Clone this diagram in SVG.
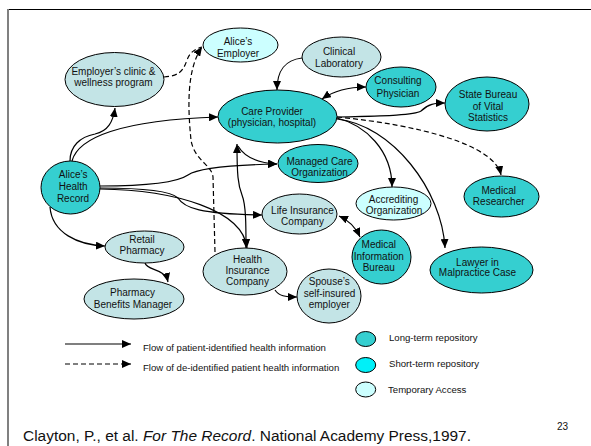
<svg xmlns="http://www.w3.org/2000/svg" width="591" height="446" viewBox="0 0 591 446">
  <style>
    .lt { fill: #35cfd0; stroke: #000; stroke-width: 1; }
    .st { fill: #00f0f8; stroke: #000; stroke-width: 1; }
    .ta { fill: #ccffff; stroke: #000; stroke-width: 1; }
    .ot { fill: #c3e4e6; stroke: #000; stroke-width: 1; }
    .lbl { font-family: "Liberation Sans", Arial, sans-serif; font-size: 10px; fill: #111; text-anchor: middle; }
    .leg { font-family: "Liberation Sans", Arial, sans-serif; font-size: 9.6px; fill: #111; }
    .ref { font-family: "Liberation Sans", Arial, sans-serif; font-size: 14px; fill: #111; }
    .c { fill: none; stroke: #000; stroke-width: 1.2; }
    .d { stroke-dasharray: 5 3; }
  </style>
  <defs>
    <marker id="ah" viewBox="0 0 9 8" refX="9" refY="4" markerWidth="9" markerHeight="8" markerUnits="userSpaceOnUse" orient="auto-start-reverse">
      <path d="M0,0 L9,4 L0,8 z" fill="#000"/>
    </marker>
  </defs>

  <rect width="591" height="446" fill="#fff"/>
  <!-- slide frame -->
  <line x1="8" y1="9.5" x2="591" y2="9.5" stroke="#000" stroke-width="1"/>
  <line x1="8" y1="9" x2="8" y2="446" stroke="#808080" stroke-width="2"/>

  <!-- connectors -->
  <g id="connectors">
    <path class="c" d="M70,161 C70,146 80,137 95,134 C108,131 113,122 115,108" marker-end="url(#ah)"/>
    <path class="c" d="M72,161 C78,138 120,120 218,117" marker-end="url(#ah)"/>
    <path class="c" d="M100,186 C140,186 175,184 188,175 C198,168 230,165 277,164" marker-end="url(#ah)"/>
    <path class="c" d="M100,188 C135,188 170,190 178,198 C184,208 200,214 262,215" marker-end="url(#ah)"/>
    <path class="c" d="M100,189 C175,190 243,210 247,248" marker-end="url(#ah)"/>
    <path class="c" d="M50,207 C52,233 78,245 105,246" marker-end="url(#ah)"/>
    <path class="c" d="M145,263 C147,271 165,268 168,282" marker-end="url(#ah)"/>
    <path class="c" d="M237,144 C237,175 238,185 242,195 C246,205 246,225 246,248" marker-start="url(#ah)" marker-end="url(#ah)"/>
    <path class="c" d="M238,146 C245,158 258,163 277,164" marker-end="url(#ah)"/>
    <path class="c d" d="M215,252 L213,177 C212,165 194,160 191,140 C188,110 186,70 202,47" marker-end="url(#ah)"/>
    <path class="c d" d="M164,77 C178,76 183,72 187,60 C190,52 195,49 202,47"/>
    <path class="c" d="M302,58 C285,60 277,70 277,90" marker-end="url(#ah)"/>
    <path class="c" d="M322,99 C335,90 350,87 366,87" marker-start="url(#ah)" marker-end="url(#ah)"/>
    <path class="c" d="M337,117 C370,116 413,116 421,111 C428,104 435,103 445,103" marker-end="url(#ah)"/>
    <path class="c d" d="M337,117 C420,125 495,145 501,175" marker-end="url(#ah)"/>
    <path class="c" d="M337,118 C365,125 392,150 392,187" marker-end="url(#ah)"/>
    <path class="c" d="M337,119 C392,125 442,190 445,248" marker-end="url(#ah)"/>
    <path class="c" d="M339,216 C348,220 356,228 360,237" marker-start="url(#ah)" marker-end="url(#ah)"/>
    <path class="c" d="M275,290 C279,296 285,297 297,297" marker-end="url(#ah)"/>
  </g>

  <!-- nodes -->
  <g id="alices-employer">
    <ellipse class="ta" cx="240.5" cy="45" rx="37.5" ry="17"/>
    <text class="lbl" x="238" y="45">Alice’s</text>
    <text class="lbl" x="238" y="57">Employer</text>
  </g>
  <g id="employers-clinic">
    <ellipse class="ot" cx="114.5" cy="79.5" rx="49.5" ry="27"/>
    <text class="lbl" x="113.5" y="75">Employer’s clinic &amp;</text>
    <text class="lbl" x="113.5" y="86">wellness program</text>
  </g>
  <g id="clinical-laboratory">
    <ellipse class="ot" cx="341.5" cy="57" rx="39.5" ry="20"/>
    <text class="lbl" x="339" y="55">Clinical</text>
    <text class="lbl" x="339" y="67">Laboratory</text>
  </g>
  <g id="consulting-physician">
    <ellipse class="lt" cx="401" cy="87" rx="35" ry="20"/>
    <text class="lbl" x="398" y="84">Consulting</text>
    <text class="lbl" x="398" y="97">Physician</text>
  </g>
  <g id="state-bureau">
    <ellipse class="lt" cx="487" cy="104" rx="42" ry="27"/>
    <text class="lbl" x="488" y="97.5">State Bureau</text>
    <text class="lbl" x="488" y="109.5">of Vital</text>
    <text class="lbl" x="488" y="121">Statistics</text>
  </g>
  <g id="care-provider">
    <ellipse class="lt" cx="277.5" cy="116.5" rx="59.5" ry="26.5"/>
    <text class="lbl" x="272" y="114.5">Care Provider</text>
    <text class="lbl" x="272" y="126">(physician, hospital)</text>
  </g>
  <g id="managed-care">
    <ellipse class="lt" cx="318" cy="163.5" rx="40" ry="19"/>
    <text class="lbl" x="319.5" y="164.5">Managed Care</text>
    <text class="lbl" x="319.5" y="175.5">Organization</text>
  </g>
  <g id="accrediting-organization">
    <ellipse class="ta" cx="393.5" cy="203.5" rx="37.5" ry="16.5"/>
    <text class="lbl" x="393.5" y="202.5">Accrediting</text>
    <text class="lbl" x="394" y="214">Organization</text>
  </g>
  <g id="medical-researcher">
    <ellipse class="lt" cx="501.5" cy="196.5" rx="37.5" ry="20.5"/>
    <text class="lbl" x="498.7" y="193.5">Medical</text>
    <text class="lbl" x="498.7" y="205">Researcher</text>
  </g>
  <g id="life-insurance">
    <ellipse class="ot" cx="299.5" cy="214" rx="37.5" ry="20"/>
    <text class="lbl" x="302.5" y="213.5">Life Insurance</text>
    <text class="lbl" x="302.5" y="225">Company</text>
  </g>
  <g id="medical-information-bureau">
    <ellipse class="lt" cx="381.5" cy="257" rx="29.5" ry="27"/>
    <text class="lbl" x="378.8" y="247.5">Medical</text>
    <text class="lbl" x="378.8" y="259.5">Information</text>
    <text class="lbl" x="378.8" y="271">Bureau</text>
  </g>
  <g id="lawyer">
    <ellipse class="lt" cx="481.5" cy="270" rx="51.5" ry="23"/>
    <text class="lbl" x="477.5" y="265.5">Lawyer in</text>
    <text class="lbl" x="477.5" y="276">Malpractice Case</text>
  </g>
  <g id="spouses-employer">
    <ellipse class="ot" cx="329" cy="296" rx="32" ry="27"/>
    <text class="lbl" x="329.3" y="285">Spouse’s</text>
    <text class="lbl" x="329.5" y="296.5">self-insured</text>
    <text class="lbl" x="329.3" y="307.5">employer</text>
  </g>
  <g id="health-insurance">
    <ellipse class="ot" cx="245" cy="271.5" rx="42" ry="23.5"/>
    <text class="lbl" x="247.5" y="262.5">Health</text>
    <text class="lbl" x="247.5" y="274">Insurance</text>
    <text class="lbl" x="247.5" y="285">Company</text>
  </g>
  <g id="alices-health-record">
    <ellipse class="lt" cx="70.5" cy="187.5" rx="29.5" ry="26.5"/>
    <text class="lbl" x="73.2" y="177.8">Alice’s</text>
    <text class="lbl" x="73.2" y="190">Health</text>
    <text class="lbl" x="73" y="202">Record</text>
  </g>
  <g id="retail-pharmacy">
    <ellipse class="ot" cx="144.5" cy="247" rx="39.5" ry="16"/>
    <text class="lbl" x="142" y="242.5">Retail</text>
    <text class="lbl" x="142" y="254">Pharmacy</text>
  </g>
  <g id="pharmacy-benefits-manager">
    <ellipse class="ot" cx="134" cy="299" rx="50" ry="20"/>
    <text class="lbl" x="132.5" y="296">Pharmacy</text>
    <text class="lbl" x="133" y="307.5">Benefits Manager</text>
  </g>

  <!-- legend -->
  <g id="legend">
    <line class="c" x1="65" y1="344" x2="131" y2="344" marker-end="url(#ah)"/>
    <text class="leg" x="143" y="351">Flow of patient-identified health information</text>
    <line class="c d" x1="65" y1="364" x2="131" y2="364" marker-end="url(#ah)"/>
    <text class="leg" x="143" y="371">Flow of de-identified patient health information</text>
    <ellipse class="lt" cx="365.7" cy="339" rx="10" ry="7.5"/>
    <text class="leg" x="389" y="340.5">Long-term repository</text>
    <ellipse class="st" cx="365.7" cy="365" rx="10" ry="7.5"/>
    <text class="leg" x="389" y="366.5">Short-term repository</text>
    <ellipse class="ta" cx="365.7" cy="389.5" rx="10" ry="7.5"/>
    <text class="leg" x="388" y="392.5">Temporary Access</text>
  </g>

  <!-- footer -->
  <text class="ref" x="557" y="430" style="font-size:10px">23</text>
  <text class="ref" x="23" y="441" textLength="448" lengthAdjust="spacingAndGlyphs">Clayton, P., et al. <tspan font-style="italic">For The Record</tspan>. National Academy Press,1997.</text>
</svg>
